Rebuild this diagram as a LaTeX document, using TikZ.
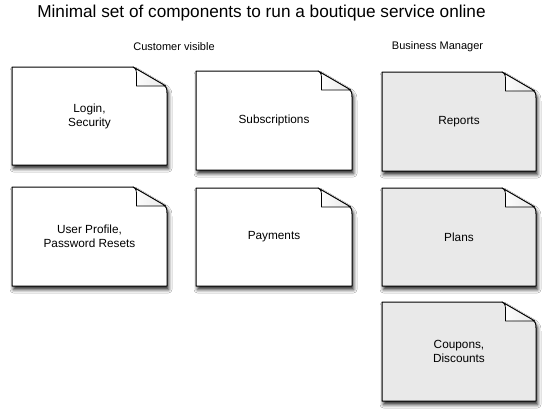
\documentclass[tikz,border=0pt]{standalone}
\usepackage{fontspec}
\setmainfont{Liberation Sans}
\usetikzlibrary{shadows.blur}
\definecolor{mgrgray}{HTML}{E9E9E9}
\tikzset{
  lbl/.style={align=center, font=\fontsize{11.8}{14}\selectfont, inner sep=0pt},
  hdr/.style={font=\fontsize{11}{13}\selectfont, inner sep=0pt},
  outline/.style={draw=black, line width=1pt, line join=round},
  docshadow/.style={blur shadow={shadow xshift=1.5pt, shadow yshift=-3.5pt, shadow blur radius=3.5pt, shadow opacity=85}},
  flap/.style={draw=black, line width=0.8pt, line join=round, left color=white, right color=gray!18}
}
\newcommand{\docbox}[7]{%
\begin{scope}[shift={(#2,#3)}]
  \path[outline, fill=#6, docshadow]
    (0,0) -- ({#4-34},0) -- ({#4-3},18) .. controls ({#4-0.5},19.5) and (#4,22) .. (#4,26)
    -- (#4,#5) -- (0,#5) -- cycle;
  \path[flap]
    ({#4-34},0) .. controls ({#4-30.5},1.5) and ({#4-30.5},4) .. ({#4-30.5},9)
    -- ({#4-30.5},19) -- ({#4-1},19) -- ({#4-3},18) -- cycle;
  \node[lbl] (#1) at ({#4/2},{#5/2}) {#7};
\end{scope}}
\begin{document}
\begin{tikzpicture}[x=1pt,y=-1pt]
\useasboundingbox[fill=white] (0,0) rectangle (547,416);
\node[font=\fontsize{17.2}{20}\selectfont, inner sep=0pt] (title) at (261.5,13) {Minimal set of components to run a boutique service online};
\node[hdr] (cv) at (174,47) {Customer visible};
\node[hdr] (bm) at (437.5,47) {Business Manager};
\docbox{login}{12}{67}{155}{98}{white}{Login,\\Security}
\docbox{subs}{196}{71}{156}{99}{white}{Subscriptions}
\docbox{profile}{12}{187}{155}{99}{white}{User Profile,\\Password Resets}
\docbox{payments}{196}{188}{156}{98}{white}{Payments}
\docbox{reports}{382}{72}{154}{99}{mgrgray}{Reports}
\docbox{plans}{382}{188}{154}{98}{mgrgray}{Plans}
\docbox{coupons}{382}{302}{154}{99}{mgrgray}{Coupons,\\Discounts}
\end{tikzpicture}
\end{document}
